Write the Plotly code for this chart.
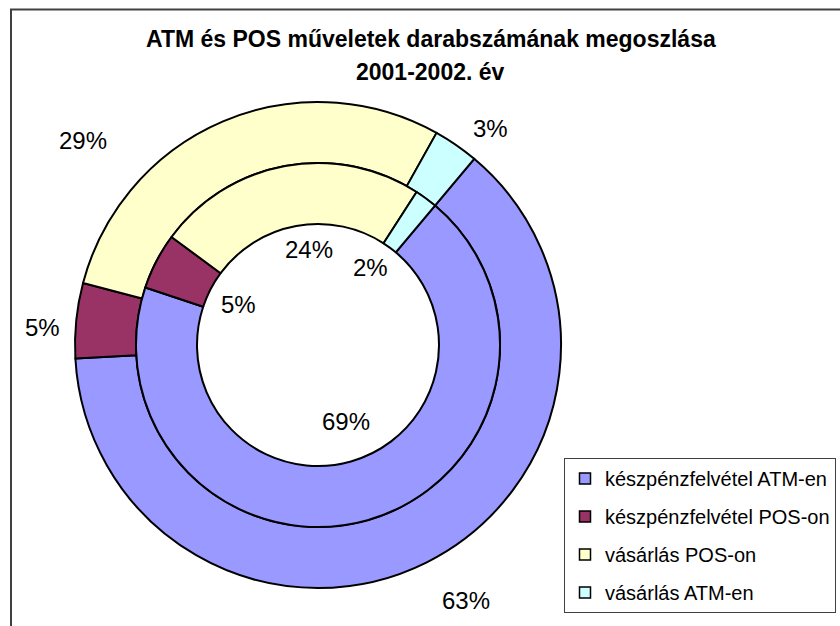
import plotly.graph_objects as go

# ---- data ----
categories = ["készpénzfelvétel ATM-en", "készpénzfelvétel POS-on", "vásárlás POS-on", "vásárlás ATM-en"]
outer_2002 = [63, 5, 29, 3]   # outer ring (%)
inner_2001 = [69, 5, 24, 2]   # inner ring (%)
colors = ["#9999FF", "#993366", "#FFFFCC", "#CCFFFF"]
title_line1 = "ATM és POS műveletek darabszámának megoszlása"
title_line2 = "2001-2002. év"

# ---- layout constants (pixels) ----
W, H = 840, 626
cx, cy = 318, 345
R_out, R_mid, R_hole = 243, 182, 121
FONT = "Liberation Sans, Arial, sans-serif"

# manual label placement (as in the original, labels were positioned by hand)
outer_label_px = [(466, 600), (42, 327), (83, 140), (490, 128)]
inner_label_px = [(346, 421), (238, 304), (309, 250), (370, 267)]


def dom(r):
    return dict(x=[(cx - r) / W, (cx + r) / W],
                y=[(H - cy - r) / H, (H - cy + r) / H])


fig = go.Figure()

fig.add_trace(go.Pie(
    labels=categories, values=outer_2002, sort=False, direction="clockwise",
    rotation=40, hole=R_mid / R_out, domain=dom(R_out),
    marker=dict(colors=colors, line=dict(color="black", width=2)),
    textinfo="none", showlegend=False, hoverinfo="label+percent",
))
fig.add_trace(go.Pie(
    labels=categories, values=inner_2001, sort=False, direction="clockwise",
    rotation=40, hole=R_hole / R_mid, domain=dom(R_mid),
    marker=dict(colors=colors, line=dict(color="black", width=2)),
    textinfo="none", showlegend=False, hoverinfo="label+percent",
))

# legend entries
for i, (name, col) in enumerate(zip(categories, colors)):
    fig.add_trace(go.Scatter(
        x=[None], y=[None], mode="markers", name=name, legendgroup=f"g{i}",
        marker=dict(symbol="square", size=11, color=col, line=dict(color="black", width=1.5)),
    ))

annotations = []
for vals, pos in ((outer_2002, outer_label_px), (inner_2001, inner_label_px)):
    for v, (px, py) in zip(vals, pos):
        annotations.append(dict(
            x=px / W, y=1 - py / H, xref="paper", yref="paper",
            text=f"{v}%", showarrow=False, xanchor="center", yanchor="middle",
            font=dict(family=FONT, size=24, color="black"),
        ))

annotations.append(dict(x=431 / W, y=1 - 39 / H, xref="paper", yref="paper",
                        text=f"<b>{title_line1}</b>", showarrow=False,
                        xanchor="center", yanchor="middle",
                        font=dict(family=FONT, size=23, color="black")))
annotations.append(dict(x=431 / W, y=1 - 72 / H, xref="paper", yref="paper",
                        text=f"<b>{title_line2}</b>", showarrow=False,
                        xanchor="center", yanchor="middle",
                        font=dict(family=FONT, size=23, color="black")))

fig.update_layout(
    width=W, height=H,
    margin=dict(l=0, r=0, t=0, b=0, autoexpand=False),
    paper_bgcolor="white", plot_bgcolor="white",
    xaxis=dict(visible=False), yaxis=dict(visible=False),
    annotations=annotations,
    showlegend=True,
    legend=dict(
        x=564 / W, y=1 - 458 / H, xanchor="left", yanchor="top",
        bgcolor="white", bordercolor="#404040", borderwidth=1,
        font=dict(family=FONT, size=20, color="black"),
        tracegroupgap=9, itemwidth=30,
    ),
    shapes=[dict(type="rect", xref="paper", yref="paper",
                 x0=11 / W, x1=1.05, y0=-0.05, y1=1 - 9.5 / H,
                 line=dict(color="#404040", width=2), fillcolor="rgba(0,0,0,0)")],
)

fig.write_html(
    "out.html",
    config={"displayModeBar": False},
    post_script="document.body.style.margin='0';document.body.style.overflow='hidden';",
)
